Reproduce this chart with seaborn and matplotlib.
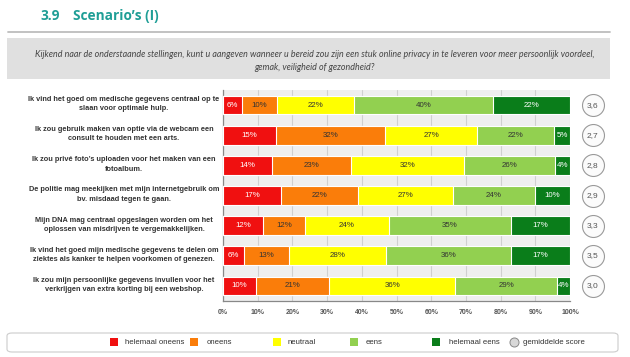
import numpy as np
import pandas as pd
import seaborn as sns
import matplotlib
matplotlib.use("Agg")
import matplotlib.pyplot as plt
from matplotlib.patches import Rectangle, FancyBboxPatch
from matplotlib.lines import Line2D
import matplotlib.transforms as mtransforms

# ---------------- data ----------------
questions = [
    "Ik vind het goed om medische gegevens centraal op te\nslaan voor optimale hulp.",
    "Ik zou gebruik maken van optie via de webcam een\nconsult te houden met een arts.",
    "Ik zou privé foto’s uploaden voor het maken van een\nfotoalbum.",
    "De politie mag meekijken met mijn internetgebruik om\nbv. misdaad tegen te gaan.",
    "Mijn DNA mag centraal opgeslagen worden om het\noplossen van misdrijven te vergemakkelijken.",
    "Ik vind het goed mijn medische gegevens te delen om\nziektes als kanker te helpen voorkomen of genezen.",
    "Ik zou mijn persoonlijke gegevens invullen voor het\nverkrijgen van extra korting bij een webshop.",
]
categories = ["helemaal oneens", "oneens", "neutraal", "eens", "helemaal eens"]
helemaal_oneens = [5.6, 15.2, 14.2, 16.8, 11.6, 6.0, 9.6]
oneens          = [9.9, 31.5, 22.8, 22.1, 12.1, 12.9, 21.0]
neutraal        = [22.3, 26.6, 32.4, 27.3, 24.0, 28.2, 36.3]
eens            = [40.1, 22.1, 26.3, 23.7, 35.4, 35.8, 29.4]
helemaal_eens   = [22.1, 4.6, 4.3, 10.1, 16.9, 17.1, 3.7]
labels_pct = [
    [6, 10, 22, 40, 22],
    [15, 32, 27, 22, 5],
    [14, 23, 32, 26, 4],
    [17, 22, 27, 24, 10],
    [12, 12, 24, 35, 17],
    [6, 13, 28, 36, 17],
    [10, 21, 36, 29, 4],
]
mean_scores = ["3,6", "2,7", "2,8", "2,9", "3,3", "3,5", "3,0"]
xtick_vals = [0, 10, 20, 30, 40, 50, 60, 70, 80, 90, 100]

colors = ["#f01010", "#fa7d0a", "#ffff00", "#92d050", "#0a7d1a"]
text_colors = ["white", "#333333", "#333333", "#333333", "white"]

series = np.array([helemaal_oneens, oneens, neutraal, eens, helemaal_eens]).T
cum = np.cumsum(series, axis=1)
starts = cum - series

sns.set_theme(style="white")
plt.rcParams["font.family"] = ["Liberation Sans", "DejaVu Sans"]

W, H = 630, 357
fig = plt.figure(figsize=(W / 100, H / 100), dpi=100)
fig.patch.set_facecolor("white")

ax = fig.add_axes([223 / W, 1 - 301 / H, 347 / W, 211 / H])
ax.set_facecolor("#efefef")

# stacked bars: draw cumulative layers from widest to narrowest
for i in range(len(categories) - 1, -1, -1):
    df = pd.DataFrame({"q": questions, "v": cum[:, i]})
    sns.barplot(data=df, x="v", y="q", orient="h", color=colors[i],
                saturation=1, width=0.62, edgecolor="white", linewidth=0.8,
                ax=ax, zorder=3)

for r in range(len(questions)):
    for i in range(len(categories)):
        xc = starts[r, i] + series[r, i] / 2
        ax.text(xc, r, f"{labels_pct[r][i]}%", ha="center", va="center",
                fontsize=5.7, color=text_colors[i], zorder=5)

ax.set_xlim(0, 100)
ax.set_ylim(6.5, -0.5)
ax.set_xticks(xtick_vals)
ax.set_xticklabels([f"{v}%" for v in xtick_vals], fontsize=5, color="#555555",
                   fontweight="bold")
ax.set_yticks(range(len(questions)))
ax.set_yticklabels([])
ax.set_yticks(np.arange(-0.5, 7.0, 1.0), minor=True)
ax.tick_params(axis="y", which="major", length=0)
ax.tick_params(axis="y", which="minor", length=4, color="#888888", width=0.8,
               direction="out")
ax.tick_params(axis="x", which="major", length=3, color="#888888", width=0.8,
               direction="out", pad=3)
ax.set_xlabel("")
ax.set_ylabel("")
ax.grid(axis="x", color="#d0d0d0", linewidth=0.8, zorder=0)
ax.set_axisbelow(True)
for s in ["top", "right"]:
    ax.spines[s].set_visible(False)
for s in ["left", "bottom"]:
    ax.spines[s].set_color("#888888")
    ax.spines[s].set_linewidth(0.9)

# question labels
trans = mtransforms.blended_transform_factory(fig.transFigure, ax.transData)
for r, q in enumerate(questions):
    ax.text(124 / W, r - 0.03, q, transform=trans, ha="center", va="center",
            fontsize=5.3, fontweight="bold", color="#333333",
            family=["Liberation Sans Narrow", "Liberation Sans", "DejaVu Sans"],
            linespacing=1.45)

# mean score circles
ax.scatter([106.6] * len(questions), range(len(questions)), s=250,
           facecolor="#fbfbfb", edgecolor="#9a9a9a", linewidth=0.8,
           clip_on=False, zorder=6)
for r, m in enumerate(mean_scores):
    ax.text(106.6, r, m, ha="center", va="center", fontsize=6.0,
            color="#555555", clip_on=False, zorder=7)

# header
fig.text(40 / W, 1 - 16 / H, "3.9", fontsize=9.8, fontweight="bold",
         color="#1f9e96", va="center", family=["Open Sans", "DejaVu Sans"])
fig.text(73 / W, 1 - 16 / H, "Scenario’s (I)", fontsize=9.8, fontweight="bold",
         color="#1f9e96", va="center", family=["Open Sans", "DejaVu Sans"])
fig.add_artist(Line2D([8 / W, 610 / W], [1 - 32 / H] * 2, color="#bdbdbd",
                      linewidth=1.3))
fig.add_artist(Rectangle((7 / W, 1 - 79 / H), 603 / W, 41 / H,
                         facecolor="#e0e0e0", edgecolor="none",
                         transform=fig.transFigure))
fig.text(315 / W, 1 - 61 / H,
         "Kijkend naar de onderstaande stellingen, kunt u aangeven wanneer u bereid zou zijn een stuk online privacy in te leveren voor meer persoonlijk voordeel,\ngemak, veiligheid of gezondheid?",
         ha="center", va="center", fontsize=6.4, style="italic",
         color="#444444", linespacing=1.5, family=["Lato", "DejaVu Sans"])

# legend
fig.add_artist(FancyBboxPatch((7 / W, 1 - 352 / H), 611 / W, 19 / H,
                              boxstyle="round,pad=0,rounding_size=0.008",
                              facecolor="white", edgecolor="#cccccc",
                              linewidth=0.8, transform=fig.transFigure))
leg_sq_x = [110, 190, 273, 350, 432]
leg_tx_x = [125, 207, 288, 366, 449]
ly = 342
for c, sx, tx, name in zip(colors, leg_sq_x, leg_tx_x, categories):
    fig.add_artist(Rectangle((sx / W, 1 - (ly + 4) / H), 8 / W, 8 / H,
                             facecolor=c, edgecolor="none",
                             transform=fig.transFigure))
    fig.text(tx / W, 1 - ly / H, name, fontsize=5.6, color="#333333",
             va="center", ha="left")
fig.add_artist(Line2D([514 / W], [1 - ly / H], marker="o", markersize=6.5,
                      markerfacecolor="#d8d8d8", markeredgecolor="#888888",
                      markeredgewidth=0.7, linestyle="none",
                      transform=fig.transFigure))
fig.text(523 / W, 1 - ly / H, "gemiddelde score", fontsize=5.6,
         color="#333333", va="center", ha="left")

fig.savefig("out.png", dpi=100)
